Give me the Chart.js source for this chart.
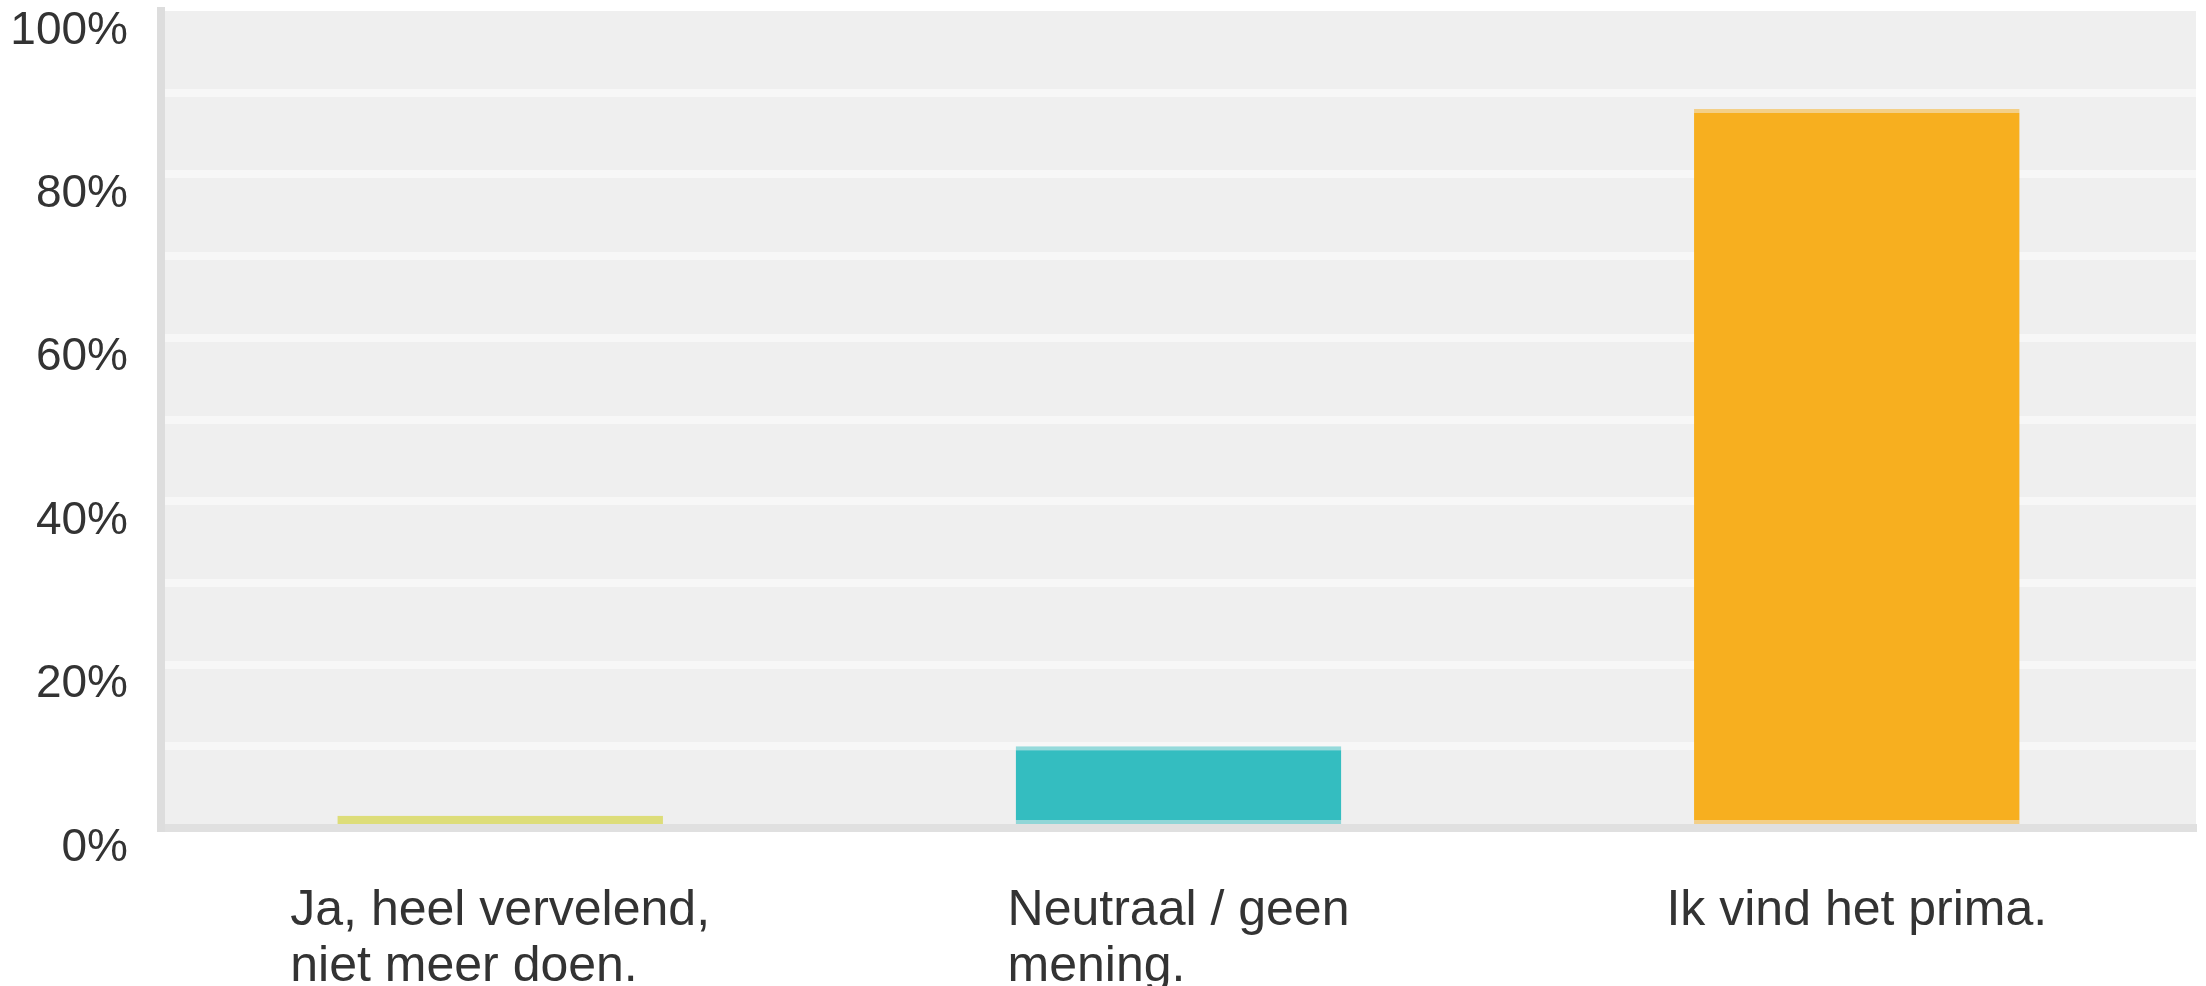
<!DOCTYPE html>
<html>
<head>
<meta charset="utf-8">
<script src="https://cdn.jsdelivr.net/npm/chart.js@4.4.0/dist/chart.umd.min.js"></script>
<style>
  html, body { margin: 0; padding: 0; background: #fff; }
</style>
</head>
<body>
<canvas id="myChart" width="2206" height="986"></canvas>
<script>
var categories = [["Ja, heel vervelend,", "niet meer doen."], ["Neutraal / geen", "mening."], ["Ik vind het prima."]];
var values = [1.5, 10.0, 88.0];
var barColors = ["#d1d12a", "#34bdc0", "#f7af1f"];
var edgeColors = ["rgba(209,209,42,0.6)", "rgba(52,189,192,0.5)", "rgba(247,175,31,0.5)"];
var tickLabels = { 0: "0%", 20: "20%", 40: "40%", 60: "60%", 80: "80%", 100: "100%" };

// grey plot background behind the bars
var plotBg = {
  id: 'plotBg',
  beforeDraw: function (chart) {
    var a = chart.chartArea, ctx = chart.ctx;
    ctx.save();
    ctx.fillStyle = '#efefef';
    ctx.fillRect(a.left, a.top, a.right - a.left, a.bottom - a.top);
    ctx.restore();
  }
};

// x labels: lines left aligned, whole block centred under the bar
var centerBlocks = {
  id: 'centerBlocks',
  beforeDraw: function (chart) {
    var xs = chart.scales.x, ctx = chart.ctx;
    var items = xs.getLabelItems();
    ctx.save();
    for (var i = 0; i < items.length; i++) {
      var it = items[i];
      var tr = it.options ? it.options.translation : it.translation;
      if (!tr) continue;
      ctx.font = it.font.string;
      var lines = [].concat(it.label), w = 0;
      for (var j = 0; j < lines.length; j++) {
        w = Math.max(w, ctx.measureText(lines[j]).width);
      }
      tr[0] = xs.getPixelForTick(i) - w / 2;
    }
    ctx.restore();
  }
};

var ctx = document.getElementById('myChart').getContext('2d');
var myChart = new Chart(ctx, {
  type: 'bar',
  data: {
    labels: categories,
    datasets: [{
      data: values,
      backgroundColor: barColors,
      borderColor: edgeColors,
      borderWidth: { top: 4, bottom: 4, left: 0, right: 0 },
      borderSkipped: false,
      categoryPercentage: 1,
      barPercentage: 0.48
    }]
  },
  options: {
    responsive: false,
    animation: false,
    devicePixelRatio: 1,
    layout: { padding: { top: 11, right: 10, left: 0, bottom: 0 } },
    plugins: { legend: { display: false }, tooltip: { enabled: false } },
    scales: {
      x: {
        grid: { display: false },
        border: { display: true, color: '#e0e0e0', width: 8 },
        ticks: {
          color: '#333333',
          font: { family: "'Liberation Sans', Arial, sans-serif", size: 50, lineHeight: 1.12 },
          align: 'start',
          padding: 47,
          maxRotation: 0,
          autoSkip: false
        },
        afterFit: function (s) {
          s.height = 158;
          s.paddingLeft = 0;
          s.paddingRight = 0;
        }
      },
      y: {
        min: 0,
        max: 100,
        grid: {
          drawTicks: false,
          lineWidth: 8,
          color: function (c) {
            var v = c.tick ? c.tick.value : 0;
            return (v == 0 || v == 100) ? 'rgba(0,0,0,0)' : '#f7f7f7';
          }
        },
        border: { display: true, color: '#dddddd', width: 8 },
        ticks: {
          stepSize: 10,
          color: '#333333',
          font: { family: "'Liberation Sans', Arial, sans-serif", size: 46 },
          padding: 33,
          labelOffset: 20,
          callback: function (value) { return tickLabels[value] || ''; }
        },
        afterFit: function (s) {
          s.width = 161;
          s.paddingTop = 0;
          s.paddingBottom = 0;
        }
      }
    }
  },
  plugins: [plotBg, centerBlocks]
});
</script>
</body>
</html>
